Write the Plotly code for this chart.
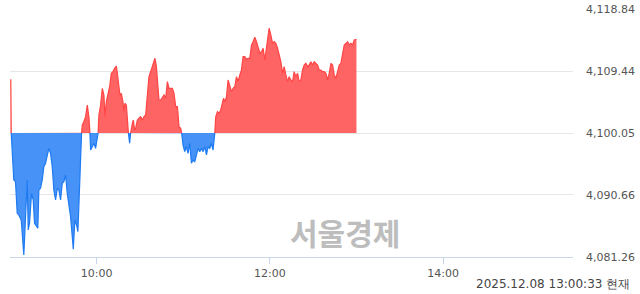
import numpy as np
import pandas as pd
import plotly.graph_objects as go

BASE = 4100.05
y_ticks = [4081.26, 4090.66, 4100.05, 4109.44, 4118.84]
x_tick_labels = ["10:00", "12:00", "14:00"]
stamp_text = "2025.12.08 13:00:33 현재"
watermark = "서울경제"

# minutes after 09:00
minutes = [0.55, 0.83, 2.64, 3.81, 4.99, 6.10, 7.77, 9.57, 10.75, 11.93, 12.62, 13.53, 14.91, 16.09,
           16.99, 18.17, 19.28, 19.98, 21.15, 22.33, 23.44, 24.62, 25.80, 26.91, 28.09, 29.27, 30.38,
           31.56, 32.74, 33.85, 35.03, 36.21, 37.32, 38.49, 39.67, 40.78, 41.96, 43.14, 43.84, 44.94,
           46.12, 47.03, 47.72, 48.90, 49.59, 50.08, 51.19, 52.37, 53.55, 54.66, 55.35, 55.84, 57.01,
           58.12, 59.30, 60.48, 61.04, 61.59, 62.77, 63.95, 65.06, 65.75, 66.72, 67.83, 69.01, 70.19,
           71.30, 72.48, 73.66, 74.35, 75.46, 76.16, 77.13, 78.24, 78.93, 79.63, 80.60, 81.29, 81.98,
           82.88, 83.58, 84.76, 85.45, 86.35, 87.05, 88.23, 89.34, 90.51, 91.69, 92.80, 93.98, 95.16,
           96.27, 97.45, 98.63, 99.74, 100.43, 101.40, 102.10, 103.21, 104.39, 105.57, 106.68, 107.86,
           109.03, 110.14, 111.32, 112.50, 113.61, 114.79, 115.97, 117.08, 118.26, 118.95, 119.85,
           121.03, 122.21, 123.32, 124.50, 125.68, 126.79, 127.97, 129.15, 130.26, 131.44, 132.62,
           133.73, 134.91, 136.09, 137.20, 138.37, 139.55, 140.66, 141.84, 142.54, 143.71, 144.82,
           146.00, 147.18, 147.88, 148.99, 149.96, 151.07, 152.25, 153.43, 154.54, 155.72, 156.90,
           158.01, 159.19, 160.36, 161.47, 162.65, 163.83, 164.94, 166.12, 167.30, 168.41, 169.59,
           170.77, 171.88, 173.05, 174.23, 175.34, 176.52, 178.39, 179.50, 180.68, 181.86, 182.97,
           184.15, 185.33, 186.44, 187.62, 188.80, 189.91, 191.09, 192.27, 193.38, 194.55, 195.73,
           196.84, 198.02, 199.20, 200.31, 201.49, 202.67, 203.78, 204.96, 206.14, 207.25, 208.43,
           209.61, 210.72, 211.89, 213.07, 214.18, 215.36, 216.54, 217.65, 218.83, 220.01, 221.12,
           222.30, 223.48, 224.59, 225.77, 226.95, 228.06, 229.23, 230.41, 231.52, 232.70, 233.88,
           234.99, 236.17, 237.35, 238.46, 240.00]

values = [4108.19, 4100.10, 4092.93, 4092.67, 4087.88, 4087.62, 4086.87, 4081.56, 4087.37, 4092.93,
          4085.35, 4086.37, 4090.91, 4089.90, 4086.37, 4085.85, 4085.61, 4091.41, 4091.67, 4092.93,
          4094.95, 4095.46, 4096.97, 4097.73, 4096.97, 4094.95, 4091.41, 4089.90, 4091.67, 4091.41,
          4089.90, 4092.43, 4092.67, 4093.69, 4090.91, 4089.40, 4087.37, 4084.34, 4082.43, 4086.87,
          4086.11, 4085.10, 4089.90, 4095.96, 4100.10, 4101.26, 4101.76, 4102.52, 4104.29, 4102.52,
          4100.10, 4097.47, 4097.97, 4098.49, 4097.73, 4098.99, 4100.05, 4102.78, 4104.29, 4106.82,
          4105.81, 4102.52, 4104.79, 4106.07, 4107.07, 4109.10, 4109.34, 4109.85, 4110.20, 4109.10,
          4106.56, 4105.81, 4106.07, 4104.79, 4103.28, 4104.55, 4104.29, 4102.02, 4100.10, 4098.49,
          4100.10, 4101.52, 4102.02, 4100.50, 4100.76, 4102.02, 4102.28, 4102.52, 4102.02, 4102.52,
          4102.78, 4105.55, 4108.58, 4109.34, 4110.10, 4110.85, 4111.37, 4110.10, 4108.58, 4105.05,
          4105.05, 4105.55, 4105.81, 4105.31, 4107.83, 4106.82, 4106.82, 4106.82, 4106.07, 4104.04,
          4104.04, 4101.00, 4100.76, 4100.00, 4098.23, 4097.22, 4097.97, 4096.97, 4098.49, 4095.46,
          4095.96, 4095.71, 4096.72, 4097.73, 4097.22, 4097.73, 4097.22, 4097.97, 4096.72, 4097.97,
          4097.73, 4098.49, 4097.47, 4100.00, 4102.52, 4103.28, 4103.03, 4103.54, 4104.55, 4105.31,
          4104.79, 4105.55, 4108.08, 4107.32, 4106.31, 4106.82, 4107.07, 4108.58, 4107.83, 4108.84,
          4109.60, 4111.61, 4111.61, 4111.22, 4111.37, 4111.37, 4113.39, 4113.89, 4114.55, 4113.89,
          4113.13, 4112.13, 4112.37, 4112.89, 4111.11, 4114.14, 4115.92, 4114.90, 4113.64, 4113.89,
          4113.64, 4112.89, 4111.87, 4110.85, 4109.10, 4110.10, 4108.84, 4107.83, 4108.58, 4108.08,
          4107.83, 4109.34, 4108.58, 4109.10, 4107.83, 4108.08, 4109.60, 4110.35, 4110.61, 4110.10,
          4110.35, 4110.85, 4110.35, 4110.85, 4110.61, 4110.35, 4109.60, 4109.60, 4109.34, 4109.34,
          4109.10, 4108.08, 4109.10, 4110.61, 4110.35, 4108.84, 4108.34, 4109.60, 4110.35, 4110.61,
          4111.87, 4113.39, 4113.64, 4113.89, 4113.39, 4113.64, 4113.39, 4114.14, 4114.25]

# insert baseline crossings so the red/blue areas split cleanly
xs, vs = [], []
for i in range(len(minutes)):
    if i > 0:
        a, b = values[i - 1] - BASE, values[i] - BASE
        if a * b < 0:
            f = a / (a - b)
            xs.append(minutes[i - 1] + f * (minutes[i] - minutes[i - 1]))
            vs.append(BASE)
    xs.append(minutes[i])
    vs.append(values[i])
xs = np.array(xs)
vs = np.array(vs)
t0 = pd.Timestamp("2025-12-08 09:00:00")
times = t0 + pd.to_timedelta(xs, unit="m")

upper = np.where(vs >= BASE, vs, BASE)
lower = np.where(vs <= BASE, vs, BASE)
red_line = np.where(vs >= BASE, vs, np.nan)
blue_line = np.where(vs <= BASE, vs, np.nan)
base_arr = np.full(len(xs), BASE)

fig = go.Figure()
fig.add_trace(go.Scatter(x=times, y=base_arr, mode="lines", line=dict(width=0), hoverinfo="skip", showlegend=False))
fig.add_trace(go.Scatter(x=times, y=upper, mode="lines", line=dict(width=0), fill="tonexty",
                         fillcolor="rgba(255,92,92,0.95)", hoverinfo="skip", showlegend=False))
fig.add_trace(go.Scatter(x=times, y=base_arr, mode="lines", line=dict(width=0), hoverinfo="skip", showlegend=False))
fig.add_trace(go.Scatter(x=times, y=lower, mode="lines", line=dict(width=0), fill="tonexty",
                         fillcolor="rgba(60,140,245,0.95)", hoverinfo="skip", showlegend=False))
fig.add_trace(go.Scatter(x=times, y=red_line, mode="lines", line=dict(color="#ff4545", width=1.2),
                         connectgaps=False, showlegend=False))
fig.add_trace(go.Scatter(x=times, y=blue_line, mode="lines", line=dict(color="#1f7bf2", width=1.2),
                         connectgaps=False, showlegend=False))

tickvals_x = [pd.Timestamp("2025-12-08 " + s) for s in x_tick_labels]
fig.update_xaxes(range=[t0, pd.Timestamp("2025-12-08 15:30:00")], tickvals=tickvals_x, ticktext=x_tick_labels,
                 showgrid=False, showline=True, linecolor="#c9d5ea", linewidth=1, ticks="outside",
                 ticklen=6, tickcolor="#c9d5ea", tickfont=dict(family="DejaVu Sans", size=11, color="#555"),
                 zeroline=False, fixedrange=True, automargin=False)
fig.update_yaxes(range=[y_ticks[0], y_ticks[-1]], tickvals=y_ticks, ticktext=[f"{v:,.2f}" for v in y_ticks],
                 side="right", showgrid=True, gridcolor="#e6e6e6", gridwidth=1, zeroline=False,
                 ticklabelstandoff=12, tickfont=dict(family="DejaVu Sans", size=11, color="#555"),
                 showline=False, fixedrange=True, automargin=False)

fig.add_annotation(text=watermark, xref="paper", yref="paper", x=0.595, y=0.10, xanchor="center", yanchor="middle",
                   showarrow=False, font=dict(family="Noto Sans CJK KR", size=30, color="#bdbdbd", weight="bold"))
fig.add_annotation(text=stamp_text, xref="paper", yref="paper", x=1.1048, y=-0.109, xanchor="right", yanchor="middle",
                   showarrow=False, font=dict(family="DejaVu Sans", size=12, color="#444"))

fig.update_layout(width=640, height=294, margin=dict(l=10, r=67, t=9, b=37),
                  plot_bgcolor="white", paper_bgcolor="white", showlegend=False)
fig.write_html("out.html", config={"displayModeBar": False})
